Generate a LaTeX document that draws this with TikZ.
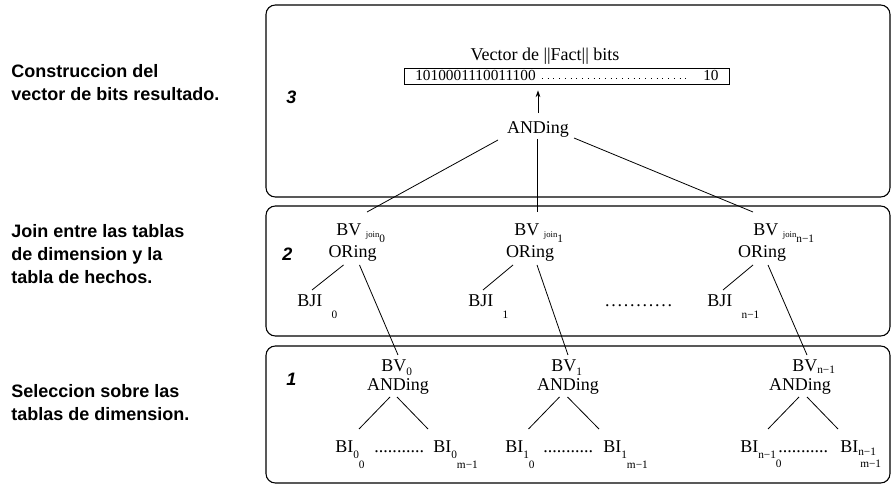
\documentclass[tikz,border=0pt]{standalone}
\usepackage{fontspec}
\setmainfont{Liberation Serif}
\newfontfamily\labelfont{Liberation Sans}
\usetikzlibrary{arrows.meta}

% lowered small index
\newcommand{\lsub}[2]{\raisebox{-#1}{\fontsize{8.5}{9}\selectfont #2}}
\newcommand{\joinsub}[1]{\raisebox{-0.8pt}{\fontsize{6.5}{7}\selectfont join}\lsub{5pt}{#1}}
\newcommand{\dotrun}[2]{\hbox to #1{\cleaders\hbox to #2{\hss.\hss}\hfill}}

\tikzset{
  frame/.style={draw, rounded corners=7pt, line width=0.8pt},
  txt/.style={inner sep=0pt, font=\fontsize{13.5}{15}\selectfont},
  bitstxt/.style={inner sep=0pt, font=\fontsize{11.5}{13}\selectfont},
  side/.style={inner sep=0pt, align=left, font=\labelfont\bfseries\fontsize{13.5}{17.25}\selectfont},
  level/.style={inner sep=0pt, font=\labelfont\bfseries\itshape\fontsize{13.5}{15}\selectfont},
  edge/.style={line width=0.6pt},
  arr/.style={line width=0.6pt, -{Stealth[length=5pt,width=3.5pt]}},
  vecdots/.style={line width=0.7pt, dash pattern=on 0.7pt off 3.6pt},
}

\begin{document}
\begin{tikzpicture}[x=0.75pt, y=-0.75pt]
  \useasboundingbox (0,0) rectangle (893,484);

  % the three stages
  \draw[frame] (266,5) rectangle (890,197);
  \draw[frame] (266,206) rectangle (890,336);
  \draw[frame] (266,346) rectangle (890,483);

  \node[level, anchor=base west] (lv3) at (286,104) {3};
  \node[level, anchor=base west] (lv2) at (282,261) {2};
  \node[level, anchor=base west] (lv1) at (286,386) {1};

  \node[side, anchor=base west] (descC) at (11,101) {Construccion del\\vector de bits resultado.};
  \node[side, anchor=base west] (descJ) at (11,284) {Join entre las tablas\\de dimension y la\\tabla de hechos.};
  \node[side, anchor=base west] (descS) at (11,421) {Seleccion sobre las\\tablas de dimension.};

  % stage 3: result vector
  \node[txt, anchor=base] (head) at (545,61) {Vector de ||Fact|| bits};
  \node[draw, line width=0.6pt, inner sep=0pt, minimum width=243.75pt, minimum height=12pt] (vec) at (567,76) {};
  \node[bitstxt, anchor=base west] (bits) at (415,81) {1010001110011100};
  \node[bitstxt, anchor=base west] (tail) at (703,81) {10};
  \draw[vecdots] ([shift={(6,-3)}]bits.base east) -- ([shift={(-14,-3)}]tail.base west);

  \node[txt, anchor=base] (and3) at (538,134) {ANDing};
  \draw[arr, shorten <=6.5pt, shorten >=4.5pt] (and3.north) -- (and3.north |- vec.south);

  % stage 2: joins
  \node[txt, anchor=base west] (bvj0) at (336,236) {BV\hspace{3.5pt}\joinsub{0}};
  \node[txt, anchor=base] (or0) at (352.5,258) {ORing};
  \node[txt, anchor=base west] (bvj1) at (514,236) {BV\hspace{3.5pt}\joinsub{1}};
  \node[txt, anchor=base] (or1) at (530,258) {ORing};
  \node[txt, anchor=base west] (bvj2) at (753,236) {BV\hspace{3.5pt}\joinsub{n−1}};
  \node[txt, anchor=base] (or2) at (762,258) {ORing};

  \node[txt, anchor=base west] (bji0) at (297,307) {BJI\hspace{7pt}\lsub{9pt}{0}};
  \node[txt, anchor=base west] (bji1) at (468,307) {BJI\hspace{7pt}\lsub{9pt}{1}};
  \node[txt, anchor=base west] (bjidots) at (601,307) {\dotrun{56pt}{4.7pt}};
  \node[txt, anchor=base west] (bji2) at (707,307) {BJI\hspace{7pt}\lsub{9pt}{n−1}};

  \draw[edge] ([shift={(-40,6)}]and3.base) -- ([shift={(31,-24)}]bvj0.base west);
  \draw[edge] ([shift={(-1,5)}]and3.base) -- ([shift={(23,-24)}]bvj1.base west);
  \draw[edge] ([shift={(36,4)}]and3.base) -- ([shift={(0,-24)}]bvj2.base west);

  \draw[edge] ([shift={(-9,7)}]or0.base) -- ([shift={(15,-17)}]bji0.base west);
  \draw[edge] ([shift={(-17,7)}]or1.base) -- ([shift={(15,-17)}]bji1.base west);
  \draw[edge] ([shift={(-9,7)}]or2.base) -- ([shift={(16,-17)}]bji2.base west);

  % stage 1: selections
  \node[txt, anchor=base west] (bv0) at (381,372) {BV\lsub{2.5pt}{0}};
  \node[txt, anchor=base] (and0) at (398,391) {ANDing};
  \node[txt, anchor=base west] (bv1) at (551,372) {BV\lsub{2.5pt}{1}};
  \node[txt, anchor=base] (and1) at (568,391) {ANDing};
  \node[txt, anchor=base west] (bv2) at (792,372) {BV\lsub{1.5pt}{n−1}};
  \node[txt, anchor=base] (and2) at (800,391) {ANDing};

  \draw[edge] ([shift={(7,7)}]or0.base) -- ([shift={(17,-17)}]bv0.base west);
  \draw[edge] ([shift={(7,7)}]or1.base) -- ([shift={(17,-17)}]bv1.base west);
  \draw[edge] ([shift={(6,7)}]or2.base) -- ([shift={(15,-17)}]bv2.base west);

  \node[txt, anchor=base west] (bi00) at (335,453) {BI\lsub{4.5pt}{0\lsub{7.5pt}{0}}};
  \node[txt, anchor=base west] (bidots0) at (372,453) {\dotrun{40.5pt}{3.4pt}};
  \node[txt, anchor=base west] (bi0m) at (433,453) {BI\lsub{4.5pt}{0\lsub{7.5pt}{m−1}}};
  \node[txt, anchor=base west] (bi10) at (505,453) {BI\lsub{4.5pt}{1\lsub{7.5pt}{0}}};
  \node[txt, anchor=base west] (bidots1) at (541,453) {\dotrun{40.5pt}{3.4pt}};
  \node[txt, anchor=base west] (bi1m) at (603,453) {BI\lsub{4.5pt}{1\lsub{7.5pt}{m−1}}};
  \node[txt, anchor=base west] (bi20) at (740,453) {BI\lsub{4.5pt}{n−1\lsub{6.5pt}{0}}};
  \node[txt, anchor=base west] (bidots2) at (776,453) {\dotrun{40.5pt}{3.4pt}};
  \node[txt, anchor=base west] (bi2m) at (840,453) {BI\lsub{2pt}{\rlap{n−1}}\lsub{11pt}{\kern1.5pt m−1}};

  \draw[edge] ([shift={(-8,6)}]and0.base) -- ([shift={(24,-24)}]bi00.base west);
  \draw[edge] ([shift={(-1,6)}]and0.base) -- ([shift={(-5,-24)}]bi0m.base west);
  \draw[edge] ([shift={(-8.5,6)}]and1.base) -- ([shift={(23.5,-24)}]bi10.base west);
  \draw[edge] ([shift={(-0.5,6)}]and1.base) -- ([shift={(-4,-24)}]bi1m.base west);
  \draw[edge] ([shift={(-1,6)}]and2.base) -- ([shift={(28,-24)}]bi20.base west);
  \draw[edge] ([shift={(7,6)}]and2.base) -- ([shift={(-2,-24)}]bi2m.base west);
\end{tikzpicture}
\end{document}
